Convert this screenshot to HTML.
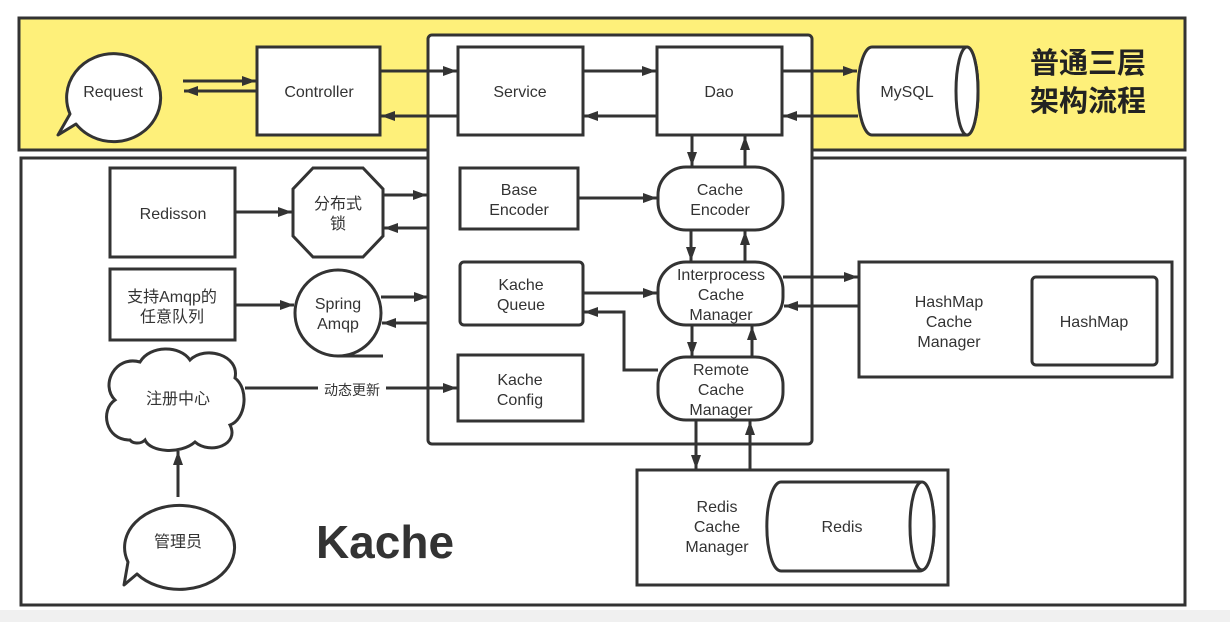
<!DOCTYPE html>
<html><head><meta charset="utf-8"><style>
html,body{margin:0;padding:0;background:#fff;}
svg text{font-family:"Liberation Sans","Noto Sans CJK SC",sans-serif;fill:#333;font-size:16px;text-anchor:middle;}
</style></head><body>
<svg width="1230" height="622" viewBox="0 0 1230 622" xmlns="http://www.w3.org/2000/svg">
<defs>
<marker id="b" viewBox="0 0 14 10" refX="14" refY="5" markerWidth="14" markerHeight="10" orient="auto" markerUnits="userSpaceOnUse"><path d="M0,0L14,5L0,10z" fill="#333"/></marker></defs>
<rect x="0" y="610" width="1230" height="12" fill="#f0f0f0"/>
<g stroke="#333" stroke-width="3" fill="#fff">
<rect x="19" y="18" width="1166" height="132" fill="#fef07a"/>
<rect x="21" y="158" width="1164" height="447"/>
<rect x="428" y="35" width="384" height="409" rx="4"/>
<path d="M58,135 L76,124 A47,44 0 1 0 70,114 Z" stroke-linejoin="round"/>
<rect x="257" y="47" width="123" height="88"/>
<rect x="458" y="47" width="125" height="88"/>
<rect x="657" y="47" width="125" height="88"/>
<path d="M872,47 H967 A11,44 0 0 1 967,135 H872 A14,44 0 0 1 872,47 Z"/>
<ellipse cx="967" cy="91" rx="11" ry="44"/>
<rect x="110" y="168" width="125" height="89"/>
<polygon points="313,168 363,168 383,189 383,236 363,257 313,257 293,236 293,189"/>
<rect x="460" y="168" width="118" height="61"/>
<rect x="658" y="167" width="125" height="63" rx="28"/>
<rect x="110" y="269" width="125" height="71"/>
<ellipse cx="338" cy="313" rx="43" ry="43"/>
<line x1="338" y1="356" x2="383" y2="356"/>
<rect x="460" y="262" width="123" height="63" rx="4"/>
<rect x="658" y="262" width="125" height="63" rx="28"/>
<rect x="859" y="262" width="313" height="115"/>
<rect x="1032" y="277" width="125" height="88" rx="4"/>
<rect x="458" y="355" width="125" height="66"/>
<rect x="658" y="357" width="125" height="63" rx="28"/>
<path d="M130,440 C105,440 100,410 115,400 C100,385 115,355 140,362 C150,345 180,345 190,360 C205,345 240,355 235,378 C250,390 245,420 230,425 C240,445 210,455 195,442 C180,455 150,452 145,440 C140,445 132,443 130,440 Z"/>
<rect x="637" y="470" width="311" height="115"/>
<path d="M781,482 H920 A14,44 0 0 1 920,571 H781 A14,44 0 0 1 781,482 Z"/>
<ellipse cx="922" cy="526" rx="12" ry="44"/>
<path d="M124,585 L137,574 A55,42 0 1 0 128,562 Z" stroke-linejoin="round"/>
</g>
<g stroke="#333" stroke-width="3" fill="none" marker-end="url(#b)">
<line x1="183" y1="81" x2="256" y2="81"/>
<line x1="257" y1="91" x2="184" y2="91"/>
<line x1="380" y1="71" x2="457" y2="71"/>
<line x1="458" y1="116" x2="381" y2="116"/>
<line x1="583" y1="71" x2="656" y2="71"/>
<line x1="657" y1="116" x2="584" y2="116"/>
<line x1="782" y1="71" x2="857" y2="71"/>
<line x1="858" y1="116" x2="783" y2="116"/>
<line x1="692" y1="135" x2="692" y2="166"/>
<line x1="745" y1="167" x2="745" y2="136"/>
<line x1="235" y1="212" x2="292" y2="212"/>
<line x1="383" y1="195" x2="427" y2="195"/>
<line x1="428" y1="228" x2="384" y2="228"/>
<line x1="235" y1="305" x2="294" y2="305"/>
<line x1="381" y1="297" x2="428" y2="297"/>
<line x1="428" y1="323" x2="382" y2="323"/>
<line x1="578" y1="198" x2="657" y2="198"/>
<line x1="691" y1="230" x2="691" y2="261"/>
<line x1="745" y1="262" x2="745" y2="231"/>
<line x1="583" y1="293" x2="657" y2="293"/>
<polyline points="658,370 624,370 624,312 584,312"/>
<line x1="783" y1="277" x2="858" y2="277"/>
<line x1="859" y1="306" x2="784" y2="306"/>
<line x1="692" y1="325" x2="692" y2="356"/>
<line x1="752" y1="357" x2="752" y2="326"/>
<line x1="696" y1="420" x2="696" y2="469"/>
<line x1="750" y1="470" x2="750" y2="421"/>
<line x1="245" y1="388" x2="457" y2="388"/>
<line x1="178" y1="497" x2="178" y2="451"/>
</g>
<rect x="318" y="380" width="68" height="18" fill="#fff"/>
<text x="113" y="97">Request</text>
<text x="319" y="97">Controller</text>
<text x="520" y="97">Service</text>
<text x="719" y="97">Dao</text>
<text x="907" y="97">MySQL</text>
<text x="1088" y="73" style="font-size:29px;font-weight:bold;fill:#222" text-anchor="middle">普通三层</text>
<text x="1088" y="111" style="font-size:29px;font-weight:bold;fill:#222">架构流程</text>
<text x="173" y="219">Redisson</text>
<text x="338" y="209">分布式</text>
<text x="338" y="229">锁</text>
<text x="519" y="195">Base</text>
<text x="519" y="215">Encoder</text>
<text x="720" y="195">Cache</text>
<text x="720" y="215">Encoder</text>
<text x="172" y="302">支持Amqp的</text>
<text x="172" y="322">任意队列</text>
<text x="338" y="309">Spring</text>
<text x="338" y="329">Amqp</text>
<text x="521" y="290">Kache</text>
<text x="521" y="310">Queue</text>
<text x="721" y="280">Interprocess</text>
<text x="721" y="300">Cache</text>
<text x="721" y="320">Manager</text>
<text x="949" y="307">HashMap</text>
<text x="949" y="327">Cache</text>
<text x="949" y="347">Manager</text>
<text x="1094" y="327">HashMap</text>
<text x="178" y="404">注册中心</text>
<text x="352" y="395" style="font-size:14px">动态更新</text>
<text x="520" y="385">Kache</text>
<text x="520" y="405">Config</text>
<text x="721" y="375">Remote</text>
<text x="721" y="395">Cache</text>
<text x="721" y="415">Manager</text>
<text x="717" y="512">Redis</text>
<text x="717" y="532">Cache</text>
<text x="717" y="552">Manager</text>
<text x="842" y="532">Redis</text>
<text x="178" y="547">管理员</text>
<text x="385" y="558" style="font-size:46px;font-weight:bold;fill:#333">Kache</text>
</svg>
</body></html>
